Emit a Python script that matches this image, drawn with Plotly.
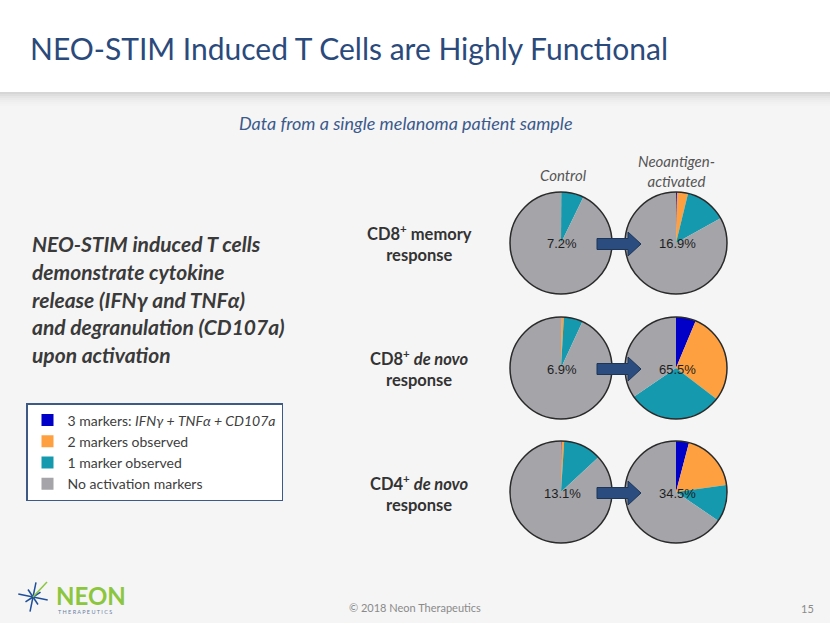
import math
import plotly.graph_objects as go

W, H = 830, 623

# ---------------- data ----------------
categories = [
    "3 markers: <i>IFNγ + TNFα + CD107a</i>",
    "2 markers observed",
    "1 marker observed",
    "No activation markers",
]
slice_colors = ["#0000c8", "#ffa040", "#1499ae", "#a4a4a9"]

row_labels = [
    "CD8<sup>+</sup> memory<br>response",
    "CD8<sup>+</sup> <i>de novo</i><br>response",
    "CD4<sup>+</sup> <i>de novo</i><br>response",
]
col_labels = ["<i>Control</i>", "<i>Neoantigen-<br>activated</i>"]

# percent of cells: [3 markers, 2 markers, 1 marker, none]
control_values = [
    [0.0, 0.1, 7.1, 92.8],
    [0.1, 0.8, 6.0, 93.1],
    [0.2, 0.8, 12.1, 86.9],
]
activated_values = [
    [0.3, 3.5, 13.1, 83.1],
    [6.3, 29.1, 30.1, 34.5],
    [4.1, 18.7, 11.7, 65.5],
]

left_lines = [
    "NEO-STIM induced T cells",
    "demonstrate cytokine",
    "release (IFNγ and TNFα)",
    "and degranulation (CD107a)",
    "upon activation",
]

# ---------------- layout geometry (pixels) ----------------
col_x = [561, 676]
row_y = [243, 368, 492]
R = 51


def px(x):
    return x / W


def py(y):
    return 1 - y / H


def ann(x, y, text, size, color, family="Lato", xanchor="center", align="center"):
    return dict(x=px(x), y=py(y), xref="paper", yref="paper", text=text, showarrow=False,
                xanchor=xanchor, yanchor="middle", align=align,
                font=dict(family=family, size=size, color=color))


fig = go.Figure()
shapes = []
annotations = []

# background
shapes.append(dict(type="rect", xref="paper", yref="paper", x0=0, x1=1, y0=py(623), y1=py(92),
                   fillcolor="#f5f5f5", line=dict(width=0), layer="below"))
for i, c in enumerate(["#d6d6d6", "#dedede", "#e5e5e5", "#eaeaea", "#eeeeee", "#f1f1f1", "#f3f3f3"]):
    shapes.append(dict(type="rect", xref="paper", yref="paper", x0=0, x1=1,
                       y0=py(92 + 2 * (i + 1)), y1=py(92 + 2 * i),
                       fillcolor=c, line=dict(width=0), layer="below"))

first = True
for r in range(3):
    for c, vals in enumerate([control_values[r], activated_values[r]]):
        cx, cy = col_x[c], row_y[r]
        fig.add_trace(go.Pie(
            labels=categories,
            values=vals,
            marker=dict(colors=slice_colors, line=dict(width=0)),
            sort=False,
            direction="clockwise",
            rotation=0,
            textinfo="none",
            hoverinfo="label+percent",
            showlegend=first,
            domain=dict(x=[px(cx - R), px(cx + R)], y=[py(cy + R), py(cy - R)]),
        ))
        first = False
        shapes.append(dict(type="circle", xref="paper", yref="paper",
                           x0=px(cx - R), x1=px(cx + R), y0=py(cy + R), y1=py(cy - R),
                           line=dict(color="#2a2a2a", width=1.5), layer="above"))
        pct = 100 - vals[3]
        annotations.append(ann(cx + 1, cy + 1, f"{pct:.1f}%", 13, "#1e1e1e", family="Liberation Sans"))
    # arrow between pies
    ay = row_y[r] + 1
    x0, xb, xt = 597, 628, 641
    path = (f"M {px(x0)} {py(ay - 5.5)} L {px(xb)} {py(ay - 5.5)} L {px(xb)} {py(ay - 12)} "
            f"L {px(xt)} {py(ay)} L {px(xb)} {py(ay + 12)} L {px(xb)} {py(ay + 5.5)} "
            f"L {px(x0)} {py(ay + 5.5)} Z")
    shapes.append(dict(type="path", xref="paper", yref="paper", path=path,
                       fillcolor="#2b4c7e", line=dict(color="#1d3557", width=1), layer="above"))
    annotations.append(ann(419, 244 + 124.5 * r, f"<b>{row_labels[r]}</b>", 16.5, "#333333"))

# column labels
annotations.append(ann(563, 175, col_labels[0], 15, "#555555"))
annotations.append(ann(676, 171, col_labels[1], 15, "#555555"))

# title & subtitle
annotations.append(ann(28, 48, "NEO-STIM Induced T Cells are Highly Functional", 30, "#2b4a7c",
                       xanchor="left"))
annotations.append(ann(406, 123, "<i>Data from a single melanoma patient sample</i>", 18, "#3b5a8c"))

# left description
for i, line in enumerate(left_lines):
    annotations.append(ann(30, 244 + 27.5 * i, f"<b><i>{line}</i></b>", 21, "#3a3a3a", xanchor="left"))

# footer
annotations.append(ann(415, 607, "© 2018 Neon Therapeutics", 11, "#8a8a8a"))
annotations.append(ann(807, 608, "15", 11, "#8a8a8a"))

# logo
sx, sy = 33, 597
for k in range(8):
    ang = k * math.pi / 4 + 0.2
    L = 15 if k % 2 == 0 else 9
    shapes.append(dict(type="line", xref="paper", yref="paper",
                       x0=px(sx), y0=py(sy), x1=px(sx + L * math.cos(ang)), y1=py(sy + L * math.sin(ang)),
                       line=dict(color="#1f4f9a", width=1.5)))
shapes.append(dict(type="line", xref="paper", yref="paper", x0=px(sx), y0=py(sy),
                   x1=px(sx + 14), y1=py(sy - 15), line=dict(color="#8cc63f", width=1.5)))
annotations.append(ann(54, 595, "<b>NEON</b>", 24, "#8cc63f", xanchor="left"))
annotations.append(ann(56, 612, "T H E R A P E U T I C S", 5.5, "#6a7ea3", xanchor="left"))

fig.update_layout(
    width=W, height=H,
    margin=dict(l=0, r=0, t=0, b=0),
    paper_bgcolor="white",
    plot_bgcolor="white",
    shapes=shapes,
    annotations=annotations,
    showlegend=True,
    legend=dict(
        x=px(26), y=py(403), xanchor="left", yanchor="top",
        bgcolor="white", bordercolor="#3d5a86", borderwidth=1.5,
        font=dict(family="Lato", size=14, color="#404040"),
        traceorder="normal",
    ),
)

fig.write_html("out.html", config={"displayModeBar": False},
               post_script="document.body.style.margin='0';")
